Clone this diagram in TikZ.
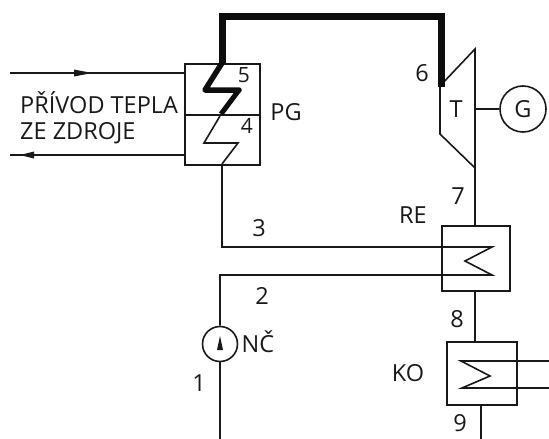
\documentclass[tikz,border=0pt]{standalone}
\usepackage{fontspec}
\setmainfont{Open Sans}
\usetikzlibrary{arrows.meta}
\definecolor{ink}{gray}{0.1}
\tikzset{
  lab/.style={font=\fontsize{23.5}{23.5}\selectfont,text=ink,inner sep=0pt},
  small lab/.style={font=\fontsize{21}{21}\selectfont,text=ink,inner sep=0pt},
  thin line/.style={draw=ink,line width=1.6pt,line join=miter},
  mid line/.style={draw=ink,line width=2.1pt,line join=miter},
  thick line/.style={draw=black!95,line width=7pt,line join=miter},
  boxn/.style={draw=ink,line width=1.6pt,inner sep=0pt,minimum width=#1}
}
\begin{document}
\begin{tikzpicture}[x=1pt,y=-1pt]
\useasboundingbox (0,0) rectangle (549,439);
% key points
\coordinate (inA) at (10,73); \coordinate (inB) at (184,73);
\coordinate (outA) at (184,155); \coordinate (outB) at (10,155);
\coordinate (pgT) at (221,63); \coordinate (pgM) at (221,114); \coordinate (pgB) at (222,164);
% boxes
\node[boxn=75pt,minimum height=51pt,anchor=north west] (pg5) at (184,63) {};
\node[boxn=75pt,minimum height=50pt,anchor=north west] (pg4) at (184,114) {};
\node[boxn=68pt,minimum height=65pt,anchor=north west] (re) at (441,225) {};
\node[boxn=70pt,minimum height=63pt,anchor=north west] (ko) at (446,341) {};
\node[circle,draw=ink,line width=1.6pt,minimum size=35pt,inner sep=0pt] (pump) at (220,344) {};
\node[circle,draw=ink,line width=1.6pt,minimum size=46pt,inner sep=0pt] (gen) at (523,109) {};
% turbine
\coordinate (t1) at (440,86); \coordinate (t2) at (475,49);
\coordinate (t3) at (475,168); \coordinate (t4) at (440,134);
\coordinate (tG) at (475,109);
\draw[thin line] (t1) -- (t2) -- (t3) -- (t4) -- cycle;
% heat-source lines
\draw[mid line] (inA) -- (inB);
\draw[mid line] (outA) -- (outB);
\fill[ink] (92,73) -- (74,69.5) -- (74,76.5) -- cycle;
\fill[ink] (20,155) -- (34,151.5) -- (34,158.5) -- cycle;
% thick steam line
\draw[thick line,line cap=butt] (441,87) -- (441,16) -- (222,16) -- (222,63);
\draw[line width=5.5pt,draw=black!95,line join=round,line cap=round] (222,63) -- (205,90) -- (239,90);
\draw[line width=5pt,draw=black!95,line cap=butt] (239,90) -- (221,114);
% thin coil and connections
\coordinate (c3) at (222,247); \coordinate (r1) at (492,247); \coordinate (r2) at (465,261);
\coordinate (r3) at (492,275); \coordinate (c2) at (220,275);
\draw[thin line] (220,116) -- (204,143) -- (238,143) -- (pgB);
\draw[thin line] (pgB) -- (c3) -- (r1) -- (r2) -- (r3) -- (c2) -- (pump.north);
\draw[mid line] (pump.south) -- (220,439);
\draw[mid line] (tG) -- (gen.west);
\draw[mid line] (t3) -- (re.north -| t3);
\draw[mid line] (re.south -| t3) -- (ko.north -| t3);
\draw[mid line] (481,404) -- (481,439);
\draw[thin line] (549,361) -- (461,361) -- (490,376) -- (462,388) -- (549,388);
\draw[mid line] (532,361) -- (549,361);
\fill[ink] (220,336) -- (217,350) -- (223,350) -- cycle;
% labels
\node[lab,anchor=west] (l1) at (20,103) {PŘÍVOD TEPLA};
\node[lab,anchor=west] (l2) at (20,133) {ZE ZDROJE};
\node[small lab] (n5) at (244,75) {5};
\node[small lab] (n4) at (247,125.5) {4};
\node[lab] (pg) at (286,112) {PG};
\node[lab] (n6) at (422,73) {6};
\node[lab] (tt) at (456,109) {T};
\node[lab] (gg) at (523,109) {G};
\node[lab] (n7) at (458,196) {7};
\node[lab] (rel) at (413,215) {RE};
\node[lab] (n3) at (259,228) {3};
\node[lab] (n2) at (262,296) {2};
\node[lab] (n8) at (457,319) {8};
\node[lab] (kol) at (408,373) {KO};
\node[lab] (n9) at (460,423) {9};
\node[lab] (n1) at (199,383) {1};
\node[lab] (nc) at (258,342) {NČ};
\end{tikzpicture}
\end{document}
